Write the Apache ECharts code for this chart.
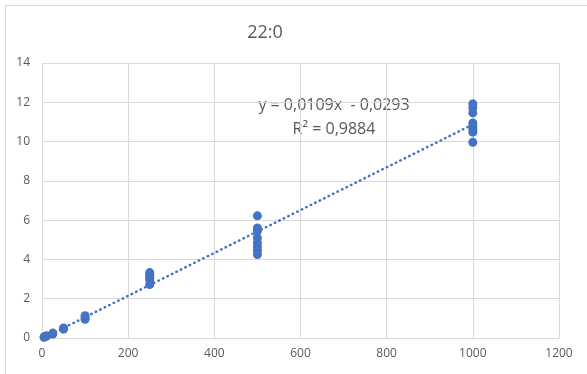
<!DOCTYPE html>
<html>
<head>
<meta charset="utf-8">
<script src="https://cdn.jsdelivr.net/npm/echarts@6/dist/echarts.min.js"></script>
<style>
  html, body { margin: 0; padding: 0; background: #fff; }
  #chart { width: 587px; height: 374px; }
</style>
</head>
<body>
<div id="chart"></div>
<script>
// Calibration measurements: concentration (x) and response (y)
const concentrations = [
  5, 5, 10, 10,
  25, 25,
  50, 50,
  100, 100, 100,
  250, 250, 250, 250, 250, 250,
  500, 500, 500, 500, 500, 500, 500, 500,
  1000, 1000, 1000, 1000, 1000, 1000, 1000, 1000
];
const responses = [
  0.04, 0.06, 0.09, 0.11,
  0.20, 0.25,
  0.45, 0.51,
  0.95, 1.05, 1.13,
  2.72, 2.95, 3.05, 3.15, 3.25, 3.33,
  4.25, 4.45, 4.65, 4.85, 5.10, 5.45, 5.60, 6.22,
  9.96, 10.48, 10.62, 10.78, 10.95, 11.46, 11.72, 11.92
];

// Linear trendline coefficients and fit quality
const slope = 0.0109;
const intercept = -0.0293;
const rSquared = 0.9884;
const trendRange = [0, 1000];

const xTicks = { min: 0, max: 1200, interval: 200 };
const yTicks = { min: 0, max: 14, interval: 2 };

const fmt = v => v.toFixed(4).replace('.', ',');
const equationText = 'y = ' + fmt(slope) + 'x ' + (intercept < 0 ? ' - ' : ' + ') + fmt(Math.abs(intercept));
const r2Text = 'R² = ' + fmt(rSquared);

const points = concentrations.map((x, i) => [x, responses[i]]);
const trendPoints = trendRange.map(x => [x, slope * x + intercept]);

const textColor = '#595959';
const gridColor = '#d9d9d9';
const markColor = '#4472c4';
const fontFamily = 'Open Sans, Noto Sans, sans-serif';

const chart = echarts.init(document.getElementById('chart'), null, { renderer: 'canvas' });
chart.setOption({
  animation: false,
  backgroundColor: '#ffffff',
  grid: { left: 42, right: 28, top: 63, bottom: 36, containLabel: false },
  xAxis: {
    type: 'value',
    min: xTicks.min, max: xTicks.max, interval: xTicks.interval,
    axisLine: { show: true, lineStyle: { color: gridColor, width: 1 } },
    axisTick: { show: false },
    axisLabel: { color: textColor, fontSize: 12, fontFamily: fontFamily, margin: 10, formatter: v => String(v) },
    splitLine: { show: true, lineStyle: { color: gridColor, width: 1 } }
  },
  yAxis: {
    type: 'value',
    min: yTicks.min, max: yTicks.max, interval: yTicks.interval,
    axisLine: { show: false },
    axisTick: { show: false },
    axisLabel: { color: textColor, fontSize: 12, fontFamily: fontFamily, margin: 12, formatter: v => String(v) },
    splitLine: { show: true, lineStyle: { color: gridColor, width: 1 } }
  },
  graphic: [
    {
      type: 'rect',
      shape: { x: 5.5, y: 5.5, width: 600, height: 400 },
      style: { fill: 'none', stroke: '#d9d9d9', lineWidth: 1 },
      silent: true, z: -1
    },
    {
      type: 'text',
      x: 265, y: 33,
      style: {
        text: '22:0', fill: textColor, fontSize: 18, fontFamily: fontFamily,
        align: 'center', verticalAlign: 'middle'
      }
    },
    {
      type: 'text',
      x: 334, y: 105,
      style: {
        text: equationText, fill: textColor, fontSize: 16, fontFamily: fontFamily,
        align: 'center', verticalAlign: 'middle'
      }
    },
    {
      type: 'text',
      x: 334, y: 129,
      style: {
        text: r2Text, fill: textColor, fontSize: 16, fontFamily: fontFamily,
        align: 'center', verticalAlign: 'middle'
      }
    }
  ],
  series: [
    {
      type: 'line',
      data: trendPoints,
      showSymbol: false,
      symbol: 'none',
      lineStyle: { color: markColor, width: 2.5, type: [0.5, 4.5], cap: 'round' },
      z: 1
    },
    {
      type: 'scatter',
      data: points,
      symbol: 'circle',
      symbolSize: 9,
      itemStyle: { color: markColor, opacity: 1 },
      z: 2
    }
  ]
});
</script>
</body>
</html>
